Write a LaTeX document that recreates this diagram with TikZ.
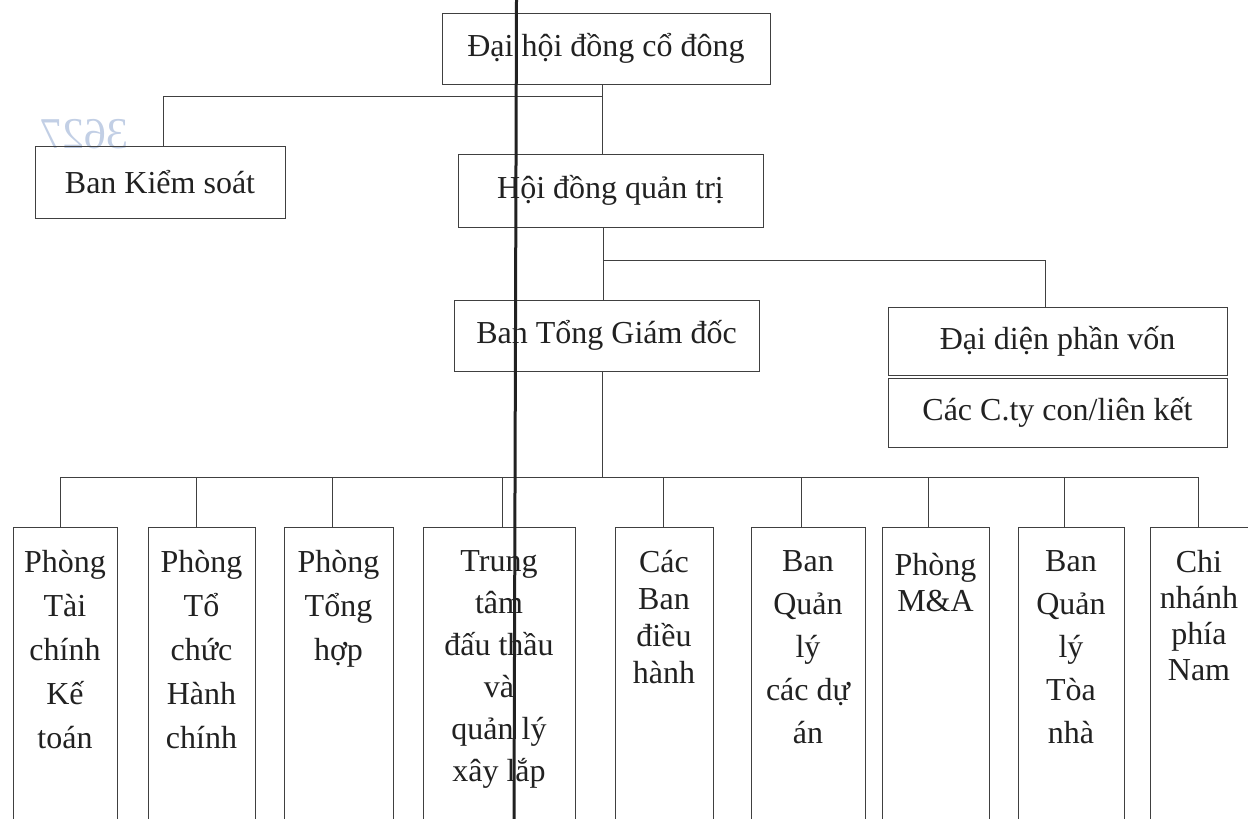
\documentclass[tikz,border=0pt]{standalone}
\usepackage{fontspec}
\setmainfont{Liberation Serif}
\definecolor{ink}{rgb}{0.13,0.13,0.13}
\definecolor{edge}{rgb}{0.25,0.25,0.25}
\definecolor{stampc}{rgb}{0.76,0.81,0.90}
\begin{document}
\begin{tikzpicture}[x=1pt,y=-1pt,
  box/.style={draw=edge,line width=0.9pt,rectangle,inner sep=0pt,text=ink,
    font=\fontsize{32}{36}\selectfont},
  col/.style={draw=edge,line width=0.9pt,rectangle,inner sep=0pt,anchor=north,minimum height=330pt},
  lbl/.style={anchor=north,inner sep=0pt,align=center,text=ink,font=\fontsize{32}{#1}\selectfont},
  lbl/.default=44,
  conn/.style={draw=edge,line width=0.9pt}]
\useasboundingbox (0,0) rectangle (1248,819);
\clip (0,0) rectangle (1248,819);
% faint stamp showing through the page
\node[text=stampc,font=\fontsize{44}{44}\selectfont,xscale=-1,inner sep=0pt] (stamp) at (84,134) {3627};
% upper boxes
\node[box,minimum width=328pt,minimum height=71pt] (dh) at (606,48.5) {Đại hội đồng cổ đông};
\node[box,minimum width=250pt,minimum height=72pt] (bks) at (160,182) {Ban Kiểm soát};
\node[box,minimum width=305pt,minimum height=73pt] (hd) at (610.5,190.5) {Hội đồng quản trị};
\node[box,minimum width=305pt,minimum height=71pt] (tgd) at (606.5,335.5) {Ban Tổng Giám đốc};
\node[box,minimum width=339pt,minimum height=68pt] (dd) at (1057.5,341) {Đại diện phần vốn};
\node[box,minimum width=339pt,minimum height=69pt] (ct) at (1057.5,412.5) {Các C.ty con/liên kết};
% lower columns
\node[col,minimum width=104pt] (b1) at (65,527) {};
\node[col,minimum width=107pt] (b2) at (201.5,527) {};
\node[col,minimum width=109pt] (b3) at (338.5,527) {};
\node[col,minimum width=152pt] (b4) at (499,527) {};
\node[col,minimum width=98pt] (b5) at (664,527) {};
\node[col,minimum width=114pt] (b6) at (808,527) {};
\node[col,minimum width=107pt] (b7) at (935.5,527) {};
\node[col,minimum width=106pt] (b8) at (1071,527) {};
\node[col,minimum width=108pt] (b9) at (1204,527) {};
\node[lbl] (t1) at (65,550) {Phòng\\Tài\\chính\\Kế\\toán};
\node[lbl] (t2) at (201.5,550) {Phòng\\Tổ\\chức\\Hành\\chính};
\node[lbl] (t3) at (338.5,550) {Phòng\\Tổng\\hợp};
\node[lbl=42] (t4) at (499,550) {Trung\\tâm\\đấu thầu\\và\\quản lý\\xây lắp};
\node[lbl=37] (t5) at (664,550) {Các\\Ban\\điều\\hành};
\node[lbl=43] (t6) at (808,550) {Ban\\Quản\\lý\\các dự\\án};
\node[lbl=36] (t7) at (935.5,553) {Phòng\\M\&A};
\node[lbl=43] (t8) at (1071,550) {Ban\\Quản\\lý\\Tòa\\nhà};
\node[lbl=36] (t9) at (1199,550) {Chi\\nhánh\\phía\\Nam};
% junction coordinates
\coordinate (j1) at (602,96);
\coordinate (k1) at (163,96);
\coordinate (j2) at (603,260);
\coordinate (k2) at (1045,260);
\coordinate (j3) at (602,477);
\coordinate (d1) at (60,477);
\coordinate (d2) at (196,477);
\coordinate (d3) at (332,477);
\coordinate (d4) at (502,477);
\coordinate (d5) at (663,477);
\coordinate (d6) at (801,477);
\coordinate (d7) at (928,477);
\coordinate (d8) at (1064,477);
\coordinate (d9) at (1198,477);
% connectors
\draw[conn] (dh.south -| j1) -- (j1 |- hd.north);
\draw[conn] (j1) -- (k1) -- (k1 |- bks.north);
\draw[conn] (hd.south -| j2) -- (j2 |- tgd.north);
\draw[conn] (j2) -- (k2) -- (k2 |- dd.north);
\draw[conn] (tgd.south -| j3) -- (j3);
\draw[conn] (d1) -- (d9);
\foreach \i in {1,...,9} {\draw[conn] (d\i) -- (d\i |- b\i.north);}
% scanner streak across the page
\draw[line width=3pt,color=ink] (516.5,0) -- (514,819);
\end{tikzpicture}
\end{document}
